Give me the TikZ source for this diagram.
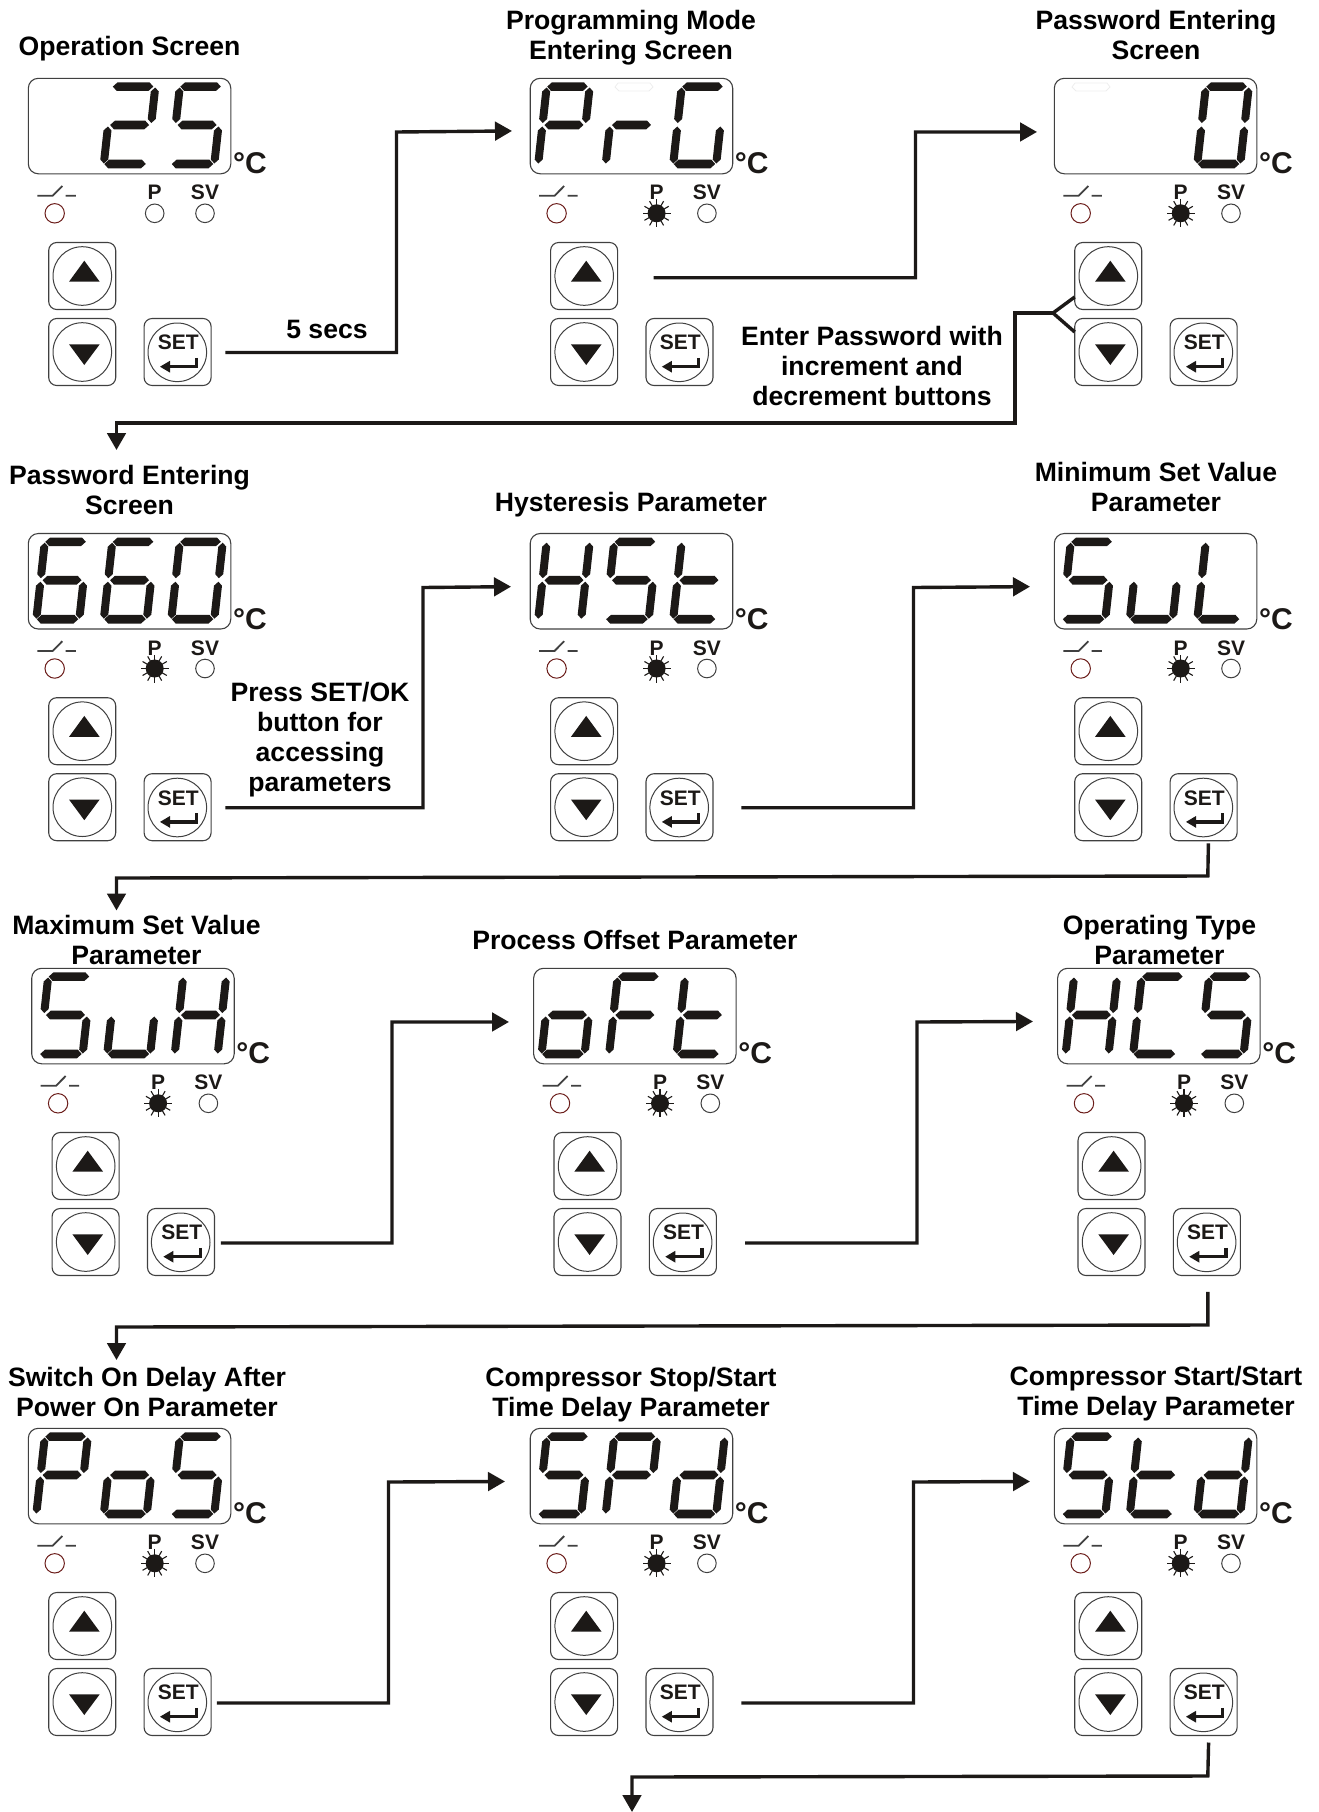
\documentclass[tikz,border=0pt]{standalone}
\usepackage{fontspec}
\setmainfont{Liberation Sans}[BoldFont={* Bold}]
\usetikzlibrary{arrows.meta}
\definecolor{ink}{HTML}{1C1917}
\definecolor{edge}{HTML}{404040}
\definecolor{ledred}{HTML}{6B1D1A}
\definecolor{ghostline}{HTML}{EDEDED}
\tikzset{
  flow/.style={line width=3.4pt,draw=ink,-{Triangle[length=17pt,width=18.5pt]}},
  flowplain/.style={line width=3.4pt,draw=ink},
  dispbox/.style={draw=edge,line width=1.1pt,rounded corners=10pt,minimum width=202.5pt,minimum height=95.5pt,inner sep=0pt,outer sep=0pt,anchor=north west},
  btnbox/.style={draw=edge,line width=1.1pt,rounded corners=8pt,minimum width=67pt,minimum height=67pt,inner sep=0pt,outer sep=0pt},
  btncirc/.style={draw=edge,line width=1pt,circle,minimum size=58.6pt,inner sep=0pt,outer sep=0pt},
  led/.style={draw=edge,line width=1pt,circle,minimum size=18.6pt,inner sep=0pt,outer sep=0pt},
  ledoff/.style={led,draw=ledred,minimum size=19.4pt},
  title/.style={font=\fontsize{26.6}{30}\selectfont\bfseries,align=center,text=black,inner sep=0pt},
  small/.style={font=\fontsize{21}{22}\selectfont\bfseries,text=ink,inner sep=0pt,anchor=base},
  unit/.style={font=\fontsize{30}{31}\selectfont\bfseries,text=ink,inner sep=0pt,anchor=base west},
}
% seven segments, in slanted digit coordinates
\newcommand\hseg[3]{\fill[ink] (#1,#3) -- (#1+4.3,#3+4.3) -- (#2-4.3,#3+4.3) -- (#2,#3) -- (#2-4.3,#3-4.3) -- (#1+4.3,#3-4.3) -- cycle;}
\newcommand\vseg[3]{\fill[ink] (#1,#2) -- (#1+4,#2+4) -- (#1+4,#3-4) -- (#1,#3) -- (#1-4,#3-4) -- (#1-4,#2+4) -- cycle;}
\newcommand\sega{\hseg{0.5}{41}{77.4}}
\newcommand\segb{\vseg{43}{41}{76.5}}
\newcommand\segc{\vseg{43}{0.5}{37.5}}
\newcommand\segd{\hseg{0.5}{42}{0}}
\newcommand\sege{\vseg{0}{0.5}{37.5}}
\newcommand\segf{\vseg{0}{41}{76.5}}
\newcommand\segg{\hseg{2}{41}{39}}
\newcommand\ghost[2]{\draw[ghostline,line width=.8pt] (#1,#2) -- ++(4,4) -- ++(30,0) -- ++(4,-4) -- ++(-3,-4) -- ++(-32,0) -- cycle;}
\def\gE{}
\def\gTwo{a,b,g,e,d}
\def\gFive{a,f,g,c,d}
\def\gSix{a,f,g,e,d,c}
\def\gZero{a,b,c,d,e,f}
\def\gP{a,b,f,g,e}
\def\gR{e,g}
\def\gG{a,f,e,d,c}
\def\gH{b,c,e,f,g}
\def\gT{f,e,g,d}
\def\gU{c,d,e}
\def\gL{f,e,d}
\def\gO{c,d,e,g}
\def\gF{a,f,g,e}
\def\gC{a,f,e,d}
\def\gD{b,c,d,e,g}
\newcommand\digit[4]{% panel x, panel y, offset, glyph
  \begin{scope}[shift={(#1+#3,#2+85.7)},x={(1pt,0pt)},y={(0.11pt,1pt)}]
    \foreach \s in #4 {\csname seg\s\endcsname}
  \end{scope}}
% #1 name #2 x #3 y #4 lit(0/1) #5 #6 #7 glyphs
\newcommand\panel[7]{%
  \node[dispbox] (#1-disp) at (#2,#3) {};
  \digit{#2}{#3}{8}{#5}\digit{#2}{#3}{75.5}{#6}\digit{#2}{#3}{143}{#7}
  \node[unit] (#1-unit) at (#2+204.5,#3+95.5) {°C};
  \draw[edge,line width=1.8pt] (#2+9,#3+117.4) -- (#2+24.4,#3+117.4) -- (#2+34,#3+107.7) (#2+37.4,#3+117.4) -- (#2+47.5,#3+117.4);
  \node[ledoff] (#1-sw) at (#2+26.4,#3+135) {};
  \node[small] (#1-ptext) at (#2+126.4,#3+121.5) {P};
  \node[small] (#1-svtext) at (#2+176.7,#3+121.5) {SV};
  \node[led] (#1-sv) at (#2+176.7,#3+135) {};
  \ifnum#4=1
    \node[circle,fill=ink,minimum size=18pt,inner sep=0pt,outer sep=0pt] (#1-p) at (#2+126.4,#3+135) {};
    \foreach \a in {0,30,...,330}{\draw[ink,line width=1.1pt] (#1-p.center) ++(\a:7.5) -- ++(\a:6.5);}
  \else
    \node[led] (#1-p) at (#2+126.4,#3+135) {};
  \fi
  \node[btnbox] (#1-up) at (#2+53.9,#3+197.7) {};
  \node[btncirc] (#1-upc) at (#2+54,#3+197.7) {};
  \fill[ink] (#2+56,#3+182.4) -- (#2+71.4,#3+203.4) -- (#2+40.7,#3+203.4) -- cycle;
  \node[btnbox] (#1-down) at (#2+53.9,#3+273.7) {};
  \node[btncirc] (#1-downc) at (#2+54,#3+273.7) {};
  \fill[ink] (#2+56,#3+286.7) -- (#2+71.4,#3+266) -- (#2+40.7,#3+266) -- cycle;
  \node[btnbox] (#1-set) at (#2+149.3,#3+273.7) {};
  \node[btncirc] (#1-setc) at (#2+149,#3+274) {};
  \node[small] (#1-settext) at (#2+150,#3+271.5) {SET};
  \draw[ink,line width=3.2pt] (#2+168.4,#3+279.5) -- (#2+168.4,#3+288.4) -- (#2+140,#3+288.4);
  \fill[ink] (#2+131.7,#3+288.4) -- (#2+141.7,#3+282.5) -- (#2+141.7,#3+294.3) -- cycle;
}
\begin{document}
\begin{tikzpicture}[x=1pt,y=-1pt]
\useasboundingbox (0,0) rectangle (1319,1812);
% panels
\panel{a}{28.3}{78.3}{0}{\gE}{\gTwo}{\gFive}
\panel{b}{530.2}{78.3}{1}{\gP}{\gR}{\gG}
\panel{c}{1054.3}{78.3}{1}{\gE}{\gE}{\gZero}
\panel{d}{28.3}{533.5}{1}{\gSix}{\gSix}{\gZero}
\panel{e}{530.2}{533.5}{1}{\gH}{\gFive}{\gT}
\panel{f}{1054.3}{533.5}{1}{\gFive}{\gU}{\gL}
\panel{g}{31.7}{968.3}{1}{\gFive}{\gU}{\gH}
\panel{h}{533.6}{968.3}{1}{\gO}{\gF}{\gT}
\panel{i}{1057.6}{968.3}{1}{\gH}{\gC}{\gFive}
\panel{j}{28.3}{1428.3}{1}{\gP}{\gO}{\gFive}
\panel{k}{530.2}{1428.3}{1}{\gFive}{\gP}{\gD}
\panel{l}{1054.3}{1428.3}{1}{\gFive}{\gT}{\gD}
\ghost{615}{87}
\ghost{1072}{87}
% titles
\node[title] (t1) at (129.5,49) {Operation Screen};
\node[title] (t2) at (631,37.5) {Programming Mode\\Entering Screen};
\node[title] (t3) at (1156,35) {Password Entering\\Screen};
\node[title] (t4) at (129.5,490) {Password Entering\\Screen};
\node[title] (t5) at (631,504.3) {Hysteresis Parameter};
\node[title] (t6) at (1156,487) {Minimum Set Value\\Parameter};
\node[title] (t7) at (136.5,940) {Maximum Set Value\\Parameter};
\node[title] (t8) at (635,940) {Process Offset Parameter};
\node[title] (t9) at (1159.5,940) {Operating Type\\Parameter};
\node[title] (t10) at (147,1392) {Switch On Delay After\\Power On Parameter};
\node[title] (t11) at (631,1394.5) {Compressor Stop/Start\\Time Delay Parameter};
\node[title] (t12) at (1156,1394) {Compressor Start/Start\\Time Delay Parameter};
\node[title] (l1) at (327,329.5) {5 secs};
\node[title] (l2) at (872,366) {Enter Password with\\increment and\\decrement buttons};
\node[title] (l3) at (320,739.5) {Press SET/OK\\button for\\accessing\\parameters};
% connectors
\draw[flow] ([xshift=14.2pt,yshift=-.5pt]a-set.east) -| (396.5,132) -- ([xshift=-18.2pt,yshift=-4.9pt]b-disp.west);
\draw[flow] ([xshift=36pt,yshift=-1.7pt]b-up.east) -| (915.5,132) -- ([xshift=-17.3pt,yshift=-5.9pt]c-disp.west);
\coordinate (fork) at (1053,313);
\coordinate (e3) at (116.5,450);
\draw[flowplain] ([yshift=-21pt]c-up.west) -- (fork) -- ([yshift=20pt]c-down.west);
\draw[flow] (fork) -| (1015,423) -| (e3);
\draw[flow] ([xshift=14.2pt,yshift=-.5pt]d-set.east) -| (423,587.5) -- ([xshift=-19.2pt,yshift=-5.4pt]e-disp.west);
\draw[flow] ([xshift=28.3pt,yshift=-.5pt]e-set.east) -| (913.5,587.5) -- ([xshift=-24.3pt,yshift=-5.4pt]f-disp.west);
\coordinate (e6) at (116.5,910.5);
\draw[flow] ([xshift=4.8pt,yshift=-2.7pt]f-set.south) -- (1207.8,876) -- (116.5,878) -- (e6);
\draw[flow] ([xshift=6.3pt,yshift=-1pt]g-set.east) -| (392,1022) -- ([xshift=-24.6pt,yshift=-5.9pt]h-disp.west);
\draw[flow] ([xshift=28.8pt,yshift=-1pt]h-set.east) -| (917,1022) -- ([xshift=-24.6pt,yshift=-5.4pt]i-disp.west);
\coordinate (e9) at (116.5,1360);
\draw[flow] ([xshift=1pt,yshift=-16.3pt]i-set.south) -- (1207.9,1325) -- (116.5,1327) -- (e9);
\draw[flow] ([xshift=5.7pt,yshift=-1pt]j-set.east) -| (388.5,1482) -- ([xshift=-25.2pt,yshift=-5.4pt]k-disp.west);
\draw[flow] ([xshift=28.3pt,yshift=-1pt]k-set.east) -| (913.5,1482) -- ([xshift=-24.3pt,yshift=-5.4pt]l-disp.west);
\coordinate (e12) at (632,1812);
\draw[flow] ([xshift=5pt,yshift=-7pt]l-set.south) -- (1207.8,1776) -- (632,1777) -- (e12);
\end{tikzpicture}
\end{document}
